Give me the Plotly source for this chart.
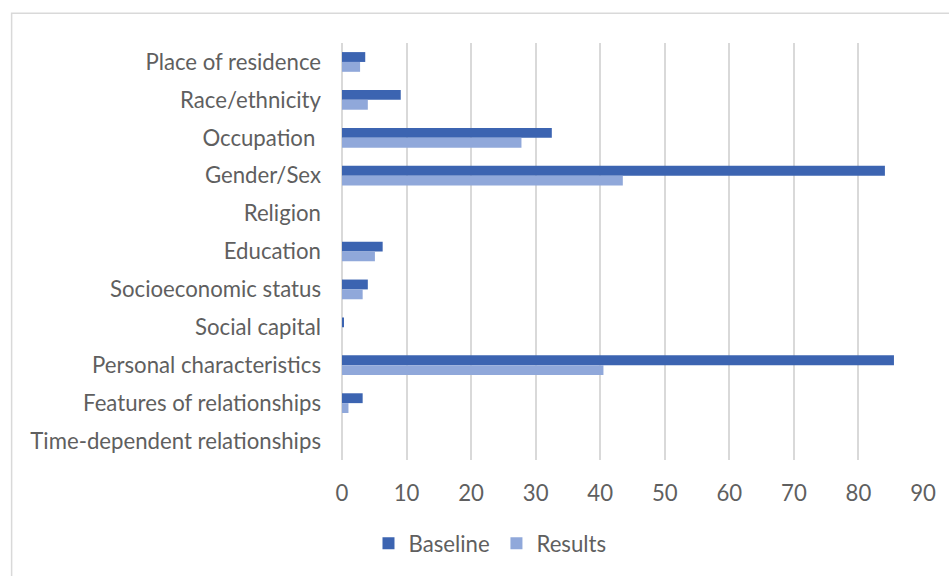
import plotly.graph_objects as go

categories = ["Place of residence", "Race/ethnicity", "Occupation ", "Gender/Sex", "Religion",
              "Education", "Socioeconomic status", "Social capital", "Personal characteristics",
              "Features of relationships", "Time-dependent relationships"]
baseline = [3.6, 9.1, 32.5, 84.1, 0, 6.3, 4.0, 0.3, 85.5, 3.2, 0]
results = [2.8, 4.0, 27.8, 43.5, 0, 5.1, 3.2, 0, 40.5, 1.0, 0]
x_ticks = [0, 10, 20, 30, 40, 50, 60, 70, 80, 90]

FONT = "Lato"
GRAY = "#5f5f5f"
FS = 22.2

fig = go.Figure()
fig.add_trace(go.Bar(y=categories, x=baseline, orientation="h", name="Baseline",
                     marker=dict(color="#3C64B1", line=dict(width=0)), legend="legend"))
fig.add_trace(go.Bar(y=categories, x=results, orientation="h", name="Results",
                     marker=dict(color="#90A8DA", line=dict(width=0)), legend="legend2"))

W, H = 949, 576
L, R, T, B = 341.5, 26.3, 43, 113
pw = W - L - R
ph = H - T - B

def px_x(px):
    return (px - L) / pw

def px_y(py):
    return (H - B - py) / ph

leg_common = dict(orientation="h", xanchor="left", y=px_y(547), yanchor="middle",
                  font=dict(family=FONT, size=FS, color=GRAY), itemwidth=30,
                  bgcolor="rgba(0,0,0,0)")

fig.update_layout(
    width=W, height=H,
    margin=dict(l=L, r=R, t=T, b=B),
    paper_bgcolor="white", plot_bgcolor="white",
    barmode="group", bargap=0.48, bargroupgap=0,
    font=dict(family=FONT, size=FS, color=GRAY),
    showlegend=True,
    legend=dict(x=px_x(368), **leg_common),
    legend2=dict(x=px_x(496), **leg_common),
    xaxis=dict(range=[0, 90], tickvals=x_ticks, showgrid=True, gridcolor="#d9d9d9", gridwidth=1.5,
               zeroline=True, zerolinecolor="#d9d9d9", zerolinewidth=1.5, showline=False,
               ticks="", ticklabelstandoff=18, tickfont=dict(family=FONT, size=FS, color=GRAY),
               fixedrange=True),
    yaxis=dict(autorange="reversed", showgrid=False, zeroline=False, showline=False, ticks="",
               ticklabelstandoff=20, tickfont=dict(family=FONT, size=FS, color=GRAY),
               fixedrange=True),
    shapes=[dict(type="rect", xref="paper", yref="paper",
                 x0=px_x(11), x1=px_x(990), y0=px_y(13), y1=px_y(620),
                 line=dict(color="#d9d9d9", width=1.5), fillcolor="rgba(0,0,0,0)", layer="below")],
)

fig.write_html("out.html")
